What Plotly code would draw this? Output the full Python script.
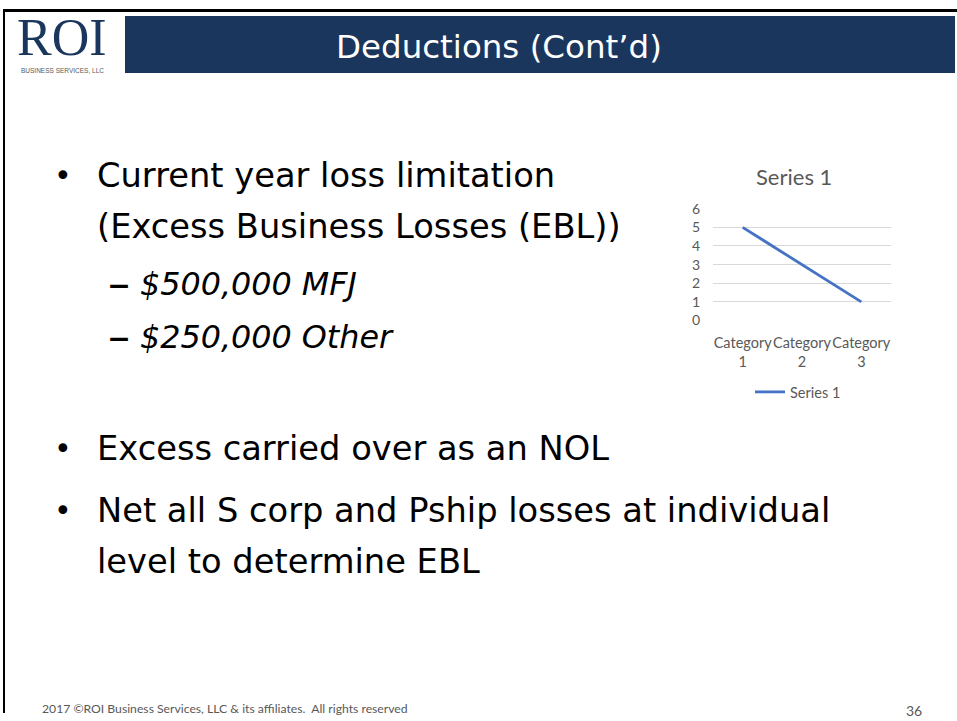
import plotly.graph_objects as go

W, H = 957, 721

# ---- data ----
categories = ["Category 1", "Category 2", "Category 3"]
category_labels = ["Category<br>1", "Category<br>2", "Category<br>3"]
series_name = "Series 1"
series1 = [5, 3, 1]
y_ticks = [0, 1, 2, 3, 4, 5, 6]

bullet_lines = [
    "Current year loss limitation",
    "(Excess Business Losses (EBL))",
    "Excess carried over as an NOL",
    "Net all S corp and Pship losses at individual",
    "level to determine EBL",
]
sub_lines = ["$500,000 MFJ", "$250,000 Other"]

# vertical placement helper: the photographed page shows the figure with an
# ~8px band above/below, so slide positions are mapped into that area
PAD = 8
SCALE = (H - 2 * PAD) / H


def px(x):
    return x / W


def py(y):
    d = (y - PAD) / SCALE
    d = min(max(d, 0.0), H)
    return 1 - d / H


NAVY = "#1b365d"
GRAY = "#595959"
CHART_FONT = "Lato"
BODY_FONT = "DejaVu Sans"

fig = go.Figure()
fig.add_trace(go.Scatter(
    x=categories, y=series1, mode="lines", name=series_name,
    line=dict(color="#4472c4", width=2.8),
    showlegend=True,
))

fig.update_layout(
    width=W, height=H, autosize=False,
    margin=dict(l=0, r=0, t=0, b=0),
    paper_bgcolor="white", plot_bgcolor="white",
    xaxis=dict(
        domain=[px(713), px(891)],
        range=[-0.5, 2.5],
        tickmode="array", tickvals=categories, ticktext=category_labels,
        tickangle=0,
        showgrid=False, zeroline=False, showline=False, ticks="",
        ticklabelstandoff=12,
        tickfont=dict(family=CHART_FONT, size=14.5, color=GRAY),
        fixedrange=True,
    ),
    yaxis=dict(
        domain=[py(320), py(208)],
        range=[0, 6],
        tickmode="array", tickvals=y_ticks,
        showgrid=True, gridcolor="#d9d9d9", gridwidth=1,
        zeroline=False, showline=False, ticks="",
        ticklabelstandoff=12,
        tickfont=dict(family=CHART_FONT, size=14, color=GRAY),
        fixedrange=True,
    ),
    legend=dict(
        x=px(798), y=py(391.5), xanchor="center", yanchor="middle",
        orientation="h", bgcolor="rgba(0,0,0,0)",
        font=dict(family=CHART_FONT, size=14.5, color=GRAY),
        itemwidth=30,
    ),
    showlegend=True,
)

shapes = []
# slide border (top and left)
shapes.append(dict(type="line", xref="paper", yref="paper",
                   x0=px(3), x1=px(957), y0=1 - 1.5 / H, y1=1 - 1.5 / H,
                   line=dict(color="black", width=3)))
shapes.append(dict(type="line", xref="paper", yref="paper",
                   x0=px(4), x1=px(4), y0=1 - 1.0 / H, y1=0,
                   line=dict(color="black", width=2)))
# title banner
shapes.append(dict(type="rect", xref="paper", yref="paper",
                   x0=px(125), x1=px(955), y0=py(72), y1=py(15),
                   fillcolor=NAVY, line=dict(width=0), layer="below"))
fig.update_layout(shapes=shapes)

ann = []
ann.append(dict(text="Deductions (Cont’d)", x=px(499), y=py(46),
                xanchor="center", yanchor="middle",
                font=dict(family=BODY_FONT, size=32.5, color="white")))
# logo
ann.append(dict(text="ROI", x=px(62), y=py(36), xanchor="center", yanchor="middle",
                height=44, valign="middle",
                font=dict(family="Liberation Serif, serif", size=52, color=NAVY)))
ann.append(dict(text="BUSINESS SERVICES, LLC", x=px(62), y=py(70),
                xanchor="center", yanchor="middle",
                font=dict(family="Liberation Sans Narrow, Liberation Sans", size=6.5, color=GRAY)))

# chart title
ann.append(dict(text=series_name, x=px(794), y=py(176), xanchor="center", yanchor="middle",
                font=dict(family=CHART_FONT, size=22, color=GRAY)))

# bullets
bullet_y = [175, 226, 448, 510, 561]
bullet_dot = [True, False, True, True, False]
for txt, yy, dot in zip(bullet_lines, bullet_y, bullet_dot):
    ann.append(dict(text=txt, x=px(95), y=py(yy), xanchor="left", yanchor="middle",
                    font=dict(family=BODY_FONT, size=33.7, color="black")))
    if dot:
        ann.append(dict(text="•", x=px(63), y=py(yy), xanchor="center", yanchor="middle",
                        font=dict(family=BODY_FONT, size=30, color="black")))
sub_y = [283, 336]
for txt, yy in zip(sub_lines, sub_y):
    ann.append(dict(text="–", x=px(119), y=py(yy), xanchor="center", yanchor="middle",
                    font=dict(family=BODY_FONT, size=44, color="black")))
    ann.append(dict(text="<i>" + txt + "</i>", x=px(138), y=py(yy), xanchor="left",
                    yanchor="middle",
                    font=dict(family=BODY_FONT, size=31.8, color="black")))

# footer
ann.append(dict(text="2017 ©ROI Business Services, LLC &amp; its affiliates.  All rights reserved",
                x=px(40), y=py(708), xanchor="left", yanchor="middle",
                font=dict(family=CHART_FONT, size=12.2, color=GRAY)))
ann.append(dict(text="36", x=px(914), y=py(710), xanchor="center", yanchor="middle",
                font=dict(family=CHART_FONT, size=14, color=GRAY)))

for a in ann:
    a.setdefault("xref", "paper")
    a.setdefault("yref", "paper")
    a.setdefault("showarrow", False)
fig.update_layout(annotations=ann)

fig.write_html(
    "out.html",
    config=dict(displayModeBar=False),
    post_script=(
        "document.documentElement.style.margin='0';"
        "document.documentElement.style.padding='0';"
        "document.body.style.margin='0';document.body.style.padding='0';"
        "document.body.style.overflow='hidden';"
        "var g=document.querySelector('.plotly-graph-div');"
        "g.style.position='fixed';g.style.top='0px';g.style.left='0px';"
    ),
)
